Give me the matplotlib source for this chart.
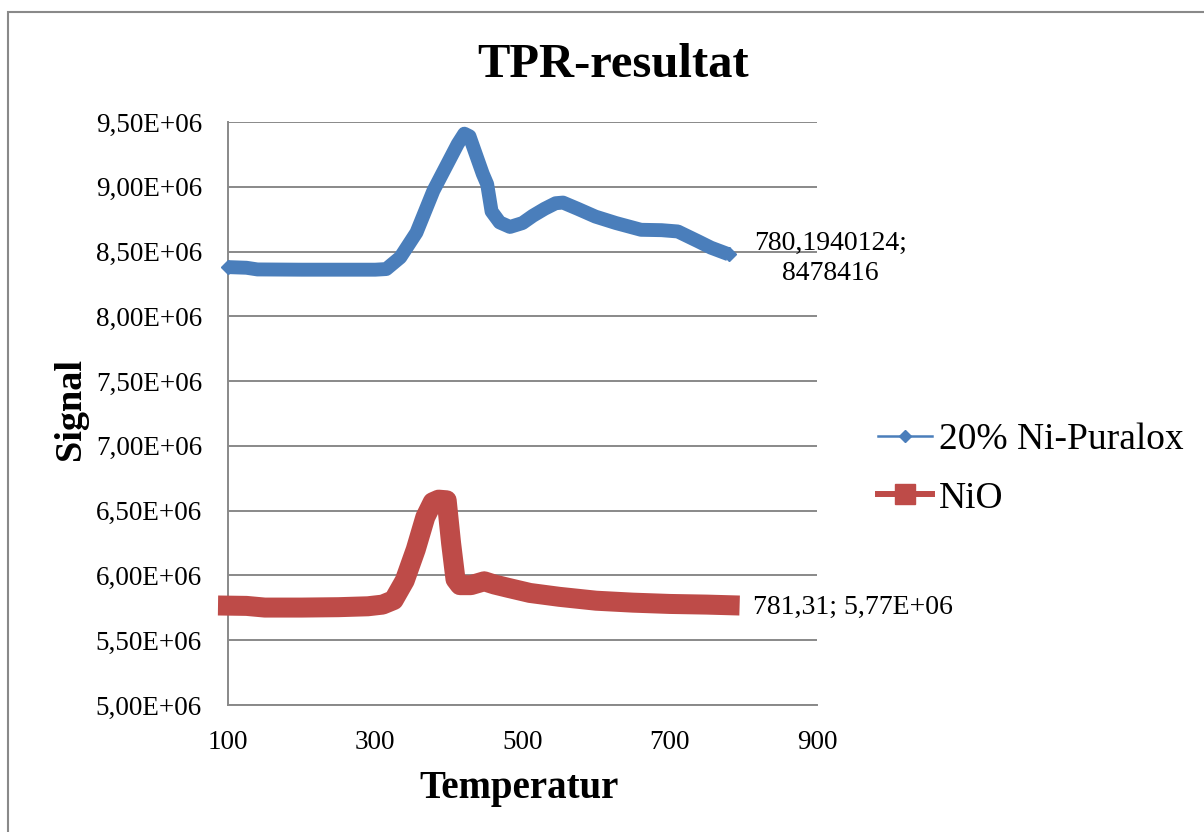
import matplotlib
matplotlib.use('Agg')
import matplotlib.pyplot as plt
from matplotlib.lines import Line2D
from matplotlib.patches import Rectangle
from matplotlib.ticker import FuncFormatter, MultipleLocator

plt.rcParams['font.family'] = ['Liberation Serif', 'DejaVu Serif']

## TPR signal vs temperature, 20% Ni on Puralox
puralox_T = [100, 125, 140, 200, 250, 300, 315, 334, 356, 379, 401, 412, 421,
             428, 435, 446, 452, 458, 469, 483, 500, 514, 530, 545, 555, 575,
             599, 627, 661, 689, 711, 739, 756, 780.1940124]
puralox_S = [8.380e6, 8.375e6, 8.362e6, 8.360e6, 8.360e6, 8.360e6, 8.365e6,
             8.455e6, 8.647e6, 8.970e6, 9.210e6, 9.330e6, 9.410e6, 9.390e6,
             9.277e6, 9.100e6, 9.020e6, 8.810e6, 8.725e6, 8.690e6, 8.720e6,
             8.776e6, 8.830e6, 8.873e6, 8.878e6, 8.830e6, 8.770e6, 8.720e6,
             8.668e6, 8.665e6, 8.655e6, 8.578e6, 8.530e6, 8478416]

## Pure NiO reference
nio_T = [100, 125, 150, 200, 250, 290, 310, 325, 340, 355, 368, 378, 386,
         397, 403, 409, 415, 430, 448, 462, 480, 510, 550, 600, 650, 700,
         750, 781.31]
nio_S = [5.767e6, 5.765e6, 5.752e6, 5.752e6, 5.755e6, 5.762e6, 5.775e6,
         5.810e6, 5.960e6, 6.200e6, 6.450e6, 6.565e6, 6.585e6, 6.580e6,
         6.250e6, 5.970e6, 5.925e6, 5.925e6, 5.955e6, 5.930e6, 5.905e6,
         5.865e6, 5.835e6, 5.805e6, 5.790e6, 5.780e6, 5.775e6, 5.77e6]

series_names = ['20% Ni-Puralox', 'NiO']
x_ticks = [100, 300, 500, 700, 900]
blue = '#4A7EBB'
red = '#BE4B48'
grey = '#898989'

W, H = 1204, 832
fig = plt.figure(figsize=(W / 100, H / 100), dpi=100)
ax = fig.add_axes([228 / W, 1 - 705 / H, 589 / W, 583 / H])

# dense Excel markers merge into thick bands, so draw thick lines
ax.plot(puralox_T, puralox_S, color=blue, lw=10, marker='D', ms=7.2,
        markevery=[0, -1], solid_joinstyle='round', solid_capstyle='butt',
        clip_on=False, zorder=3)
ax.plot(nio_T, nio_S, color=red, lw=14.4, solid_joinstyle='round',
        solid_capstyle='projecting', clip_on=False, zorder=3)

ax.set_xlim(100, 900)
ax.set_ylim(5.0e6, 9.5e6)
ax.set_xticks(x_ticks)
ax.yaxis.set_major_locator(MultipleLocator(0.5e6))
ax.yaxis.set_major_formatter(FuncFormatter(lambda v, p: f'{v:.2E}'.replace('.', ',')))
ax.tick_params(axis='both', length=0, labelsize=19.5)
ax.tick_params(axis='y', pad=18.7)
ax.tick_params(axis='x', pad=18.3)

ax.grid(True, axis='y', color=grey, lw=1.4)
ax.set_axisbelow(True)
for s in ['top', 'right']:
    ax.spines[s].set_visible(False)
for s in ['left', 'bottom']:
    ax.spines[s].set_color(grey)
    ax.spines[s].set_linewidth(1.4)

# end point labels
ax.annotate(f'{puralox_T[-1]:.7f}'.replace('.', ',') + ';\n' + f'{puralox_S[-1]:.0f}',
            xy=(puralox_T[-1], puralox_S[-1]), xytext=(102, -4),
            textcoords='offset pixels', ha='center', va='center',
            multialignment='center', linespacing=1.3, fontsize=20)
ax.annotate(f'{nio_T[-1]:g}'.replace('.', ',') + '; '
            + f'{nio_S[-1]:.2E}'.replace('.', ','),
            xy=(nio_T[-1], nio_S[-1]), xytext=(23, -2),
            textcoords='offset pixels', ha='left', va='center', fontsize=20)

fig.text(613 / W, 1 - 76.7 / H, 'TPR-resultat', ha='center', va='baseline',
         fontsize=35, fontweight='bold')
fig.text(519 / W, 1 - 798 / H, 'Temperatur', ha='center', va='baseline',
         fontsize=28, fontweight='bold')
fig.text(80 / W, 1 - 409 / H, 'Signal', ha='center', va='baseline',
         rotation=90, rotation_mode='anchor', fontsize=27.5, fontweight='bold')

handles = [
    Line2D([], [], color=blue, lw=1.8, marker='D', ms=6.6),
    Line2D([], [], color=red, lw=4.3, marker='s', ms=14.4),
]
fig.legend(handles, series_names, loc='center left',
           bbox_to_anchor=(859 / W, 1 - 469 / H), bbox_transform=fig.transFigure,
           frameon=False, fontsize=27, borderpad=0, handlelength=1.44,
           handletextpad=0.19, labelspacing=0.64)

# chart area border
fig.add_artist(Rectangle((8.3 / W, -0.1), 1.2, 1.1 - 11.7 / H,
                         transform=fig.transFigure, fill=False,
                         edgecolor=grey, lw=1.5))

fig.savefig('out.png', dpi=100)
